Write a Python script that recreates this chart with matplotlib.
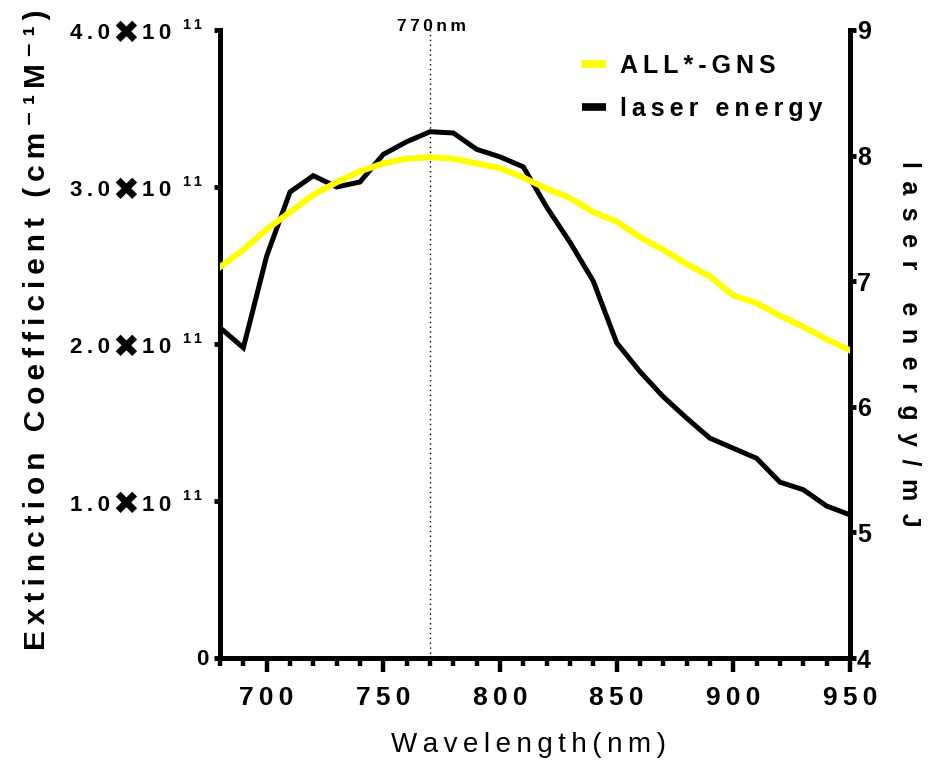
import matplotlib
matplotlib.use("Agg")
import matplotlib.pyplot as plt
from matplotlib.ticker import FixedLocator
from matplotlib.lines import Line2D

plt.rcParams['font.family'] = ['Liberation Sans', 'DejaVu Sans']
plt.rcParams['font.weight'] = 'bold'
plt.rcParams['axes.labelweight'] = 'bold'

# Wavelength grid (nm)
wavelength = [680, 690, 700, 710, 720, 730, 740, 750, 760, 770,
              780, 790, 800, 810, 820, 830, 840, 850, 860, 870,
              880, 890, 900, 910, 920, 930, 940, 950]

# ALL*-GNS extinction coefficient, units of 1e11 cm^-1 M^-1
extinction = [2.49, 2.60, 2.73, 2.84, 2.95, 3.03, 3.10, 3.15, 3.18, 3.19,
              3.18, 3.15, 3.12, 3.06, 2.99, 2.93, 2.84, 2.78, 2.68, 2.60,
              2.51, 2.43, 2.31, 2.26, 2.18, 2.11, 2.03, 1.96]

# Laser pulse energy (mJ)
laser_energy = [6.63, 6.47, 7.20, 7.71, 7.84, 7.75, 7.79, 8.01, 8.11, 8.19,
                8.18, 8.05, 7.99, 7.91, 7.59, 7.31, 7.00, 6.51, 6.28, 6.08,
                5.91, 5.75, 5.67, 5.59, 5.40, 5.34, 5.21, 5.14]

peak_nm = 770
x_ticks = [700, 750, 800, 850, 900, 950]
ext_ticks = [0, 1, 2, 3, 4]
ext_mantissa = ['0', '1.0', '2.0', '3.0', '4.0']
energy_ticks = [4, 5, 6, 7, 8, 9]

SCALE = 1e11
THIN = '\u2009'   # thin space used for letter tracking
EN = '\u2002'     # wider tracking


def track(s, sep=THIN):
    return sep.join(s)


fig = plt.figure(figsize=(9.33, 7.63), dpi=100)
ax = fig.add_axes([0.2358, 0.1376, 0.6752, 0.8231])
ax2 = ax.twinx()

# Extinction curve drawn above the laser-energy curve
ax.set_zorder(ax2.get_zorder() + 1)
ax.patch.set_visible(False)

ax2.plot(wavelength, laser_energy, color='black', lw=3.6,
         solid_joinstyle='miter', zorder=3)
ax.plot(wavelength, [v * SCALE for v in extinction], color='#ffff00',
        lw=4.4, zorder=3)
ax.axvline(peak_nm, color='black', lw=1.0, ls=(0, (1, 2.5)), zorder=2)

ax.set_xlim(680, 950)
ax.set_ylim(0, 4 * SCALE)
ax2.set_ylim(4, 9)

# spines
for s in ['top', 'right']:
    ax.spines[s].set_visible(False)
for s in ['top', 'left', 'bottom']:
    ax2.spines[s].set_visible(False)
for s in ['left', 'bottom']:
    ax.spines[s].set_linewidth(3.6)
ax2.spines['right'].set_linewidth(3.6)

# x axis ticks
ax.xaxis.set_major_locator(FixedLocator(x_ticks))
ax.xaxis.set_minor_locator(FixedLocator(list(range(680, 951, 10))))
ax.set_xticklabels([track(str(t)) for t in x_ticks], fontsize=19)
ax.tick_params(axis='x', which='major', length=10, width=3.2, pad=10,
               direction='out')
ax.tick_params(axis='x', which='minor', length=6, width=3.2,
               direction='out')

# left y axis: ticks with hand-built scientific labels
ax.set_yticks([t * SCALE for t in ext_ticks])
ax.set_yticklabels([])
ax.tick_params(axis='y', length=4, width=3.5, direction='out')
ytr = ax.get_yaxis_transform()
for t, mant in zip(ext_ticks, ext_mantissa):
    y = t * SCALE
    if t == 0:
        ax.annotate('0', xy=(0, y), xycoords=ytr, xytext=(-12, -1),
                    textcoords='offset pixels', ha='right', va='center',
                    fontsize=16, annotation_clip=False)
        continue
    ax.annotate(track(mant), xy=(0, y), xycoords=ytr, xytext=(-110, -4),
                textcoords='offset pixels', ha='right', va='center',
                fontsize=16, annotation_clip=False)
    ax.annotate('\u2716', xy=(0, y), xycoords=ytr, xytext=(-94, -4),
                textcoords='offset pixels', ha='center', va='center',
                fontsize=23, family='DejaVu Sans', annotation_clip=False)
    ax.annotate(track('10'), xy=(0, y), xycoords=ytr, xytext=(-78, -4),
                textcoords='offset pixels', ha='left', va='center',
                fontsize=16, annotation_clip=False)
    ax.annotate(track('11'), xy=(0, y), xycoords=ytr, xytext=(-37, 5),
                textcoords='offset pixels', ha='left', va='center',
                fontsize=10.5, annotation_clip=False)

# right y axis
ax2.set_yticks(energy_ticks)
ax2.set_yticklabels([str(t) for t in energy_ticks], fontsize=18)
ax2.tick_params(axis='y', length=4, width=3.5, pad=1, direction='out')

# axis titles
ax.set_ylabel(track('Extinction Coefficient (cm\u207b\u00b9M\u207b\u00b9)'),
              fontsize=21.5, fontweight='bold', labelpad=0)
ax.yaxis.set_label_coords(-0.268, 0.522)
ax2.set_ylabel(track('laser energy/mJ', EN), fontsize=18, fontweight='bold',
               rotation=270, labelpad=0)
ax2.yaxis.set_label_coords(1.113, 0.5)
ax.set_xlabel(track('Wavelength(nm)'), fontsize=20, fontweight='normal',
              family=['Liberation Sans Narrow', 'Liberation Sans', 'DejaVu Sans'])
ax.xaxis.set_label_coords(0.49, -0.118)

# peak annotation
ax.annotate(track(f'{peak_nm}nm'), xy=(peak_nm, 1.0),
            xycoords=ax.get_xaxis_transform(), xytext=(2, 3),
            textcoords='offset pixels', ha='center', va='center',
            fontsize=12.5, annotation_clip=False)

# legend
handles = [Line2D([], [], color='#ffff00', lw=5.5, solid_capstyle='butt'),
           Line2D([], [], color='black', lw=5.5, solid_capstyle='butt')]
labels = [track('ALL*-GNS'), track('laser energy')]
ax.legend(handles, labels, loc='upper left', bbox_to_anchor=(0.575, 0.962),
          frameon=False, fontsize=18, handlelength=0.95, handletextpad=0.55,
          labelspacing=0.75, borderpad=0, borderaxespad=0)

fig.savefig('out.png', dpi=100)
